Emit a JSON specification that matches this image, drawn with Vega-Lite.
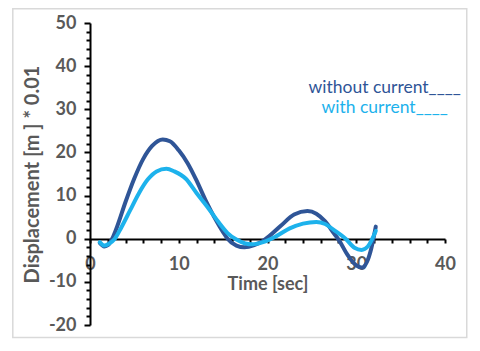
{
  "$schema": "https://vega.github.io/schema/vega-lite/v6.json",
  "width": 355,
  "height": 302,
  "autosize": {"type": "none"},
  "padding": {"left": 90, "top": 23, "right": 35, "bottom": 26},
  "background": "white",
  "config": {
    "view": {"stroke": null},
    "font": "Lato",
    "axis": {"domainColor": "black", "domainWidth": 2, "tickColor": "black", "tickWidth": 2, "grid": false, "zindex": 1,
             "labelFont": "Lato", "labelFontWeight": "bold", "labelFontSize": 18, "labelColor": "#595959",
             "titleFont": "Lato", "titleFontWeight": "bold", "titleFontSize": 18, "titleColor": "#595959"}
  },
  "datasets": {
    "curves": [
      {"series": "without current", "t": 1.1, "d": -1.0},
      {"series": "without current", "t": 1.6, "d": -1.8},
      {"series": "without current", "t": 2.0, "d": -1.5},
      {"series": "without current", "t": 2.5, "d": 0},
      {"series": "without current", "t": 3.0, "d": 2.5},
      {"series": "without current", "t": 4.0, "d": 8.5},
      {"series": "without current", "t": 5.0, "d": 14.0},
      {"series": "without current", "t": 6.0, "d": 18.5},
      {"series": "without current", "t": 7.0, "d": 21.5},
      {"series": "without current", "t": 8.2, "d": 23.0},
      {"series": "without current", "t": 9.0, "d": 22.6},
      {"series": "without current", "t": 10.0, "d": 20.5},
      {"series": "without current", "t": 11.0, "d": 17.5},
      {"series": "without current", "t": 12.0, "d": 13.5},
      {"series": "without current", "t": 13.0, "d": 9.0},
      {"series": "without current", "t": 14.0, "d": 5.0},
      {"series": "without current", "t": 15.0, "d": 1.5},
      {"series": "without current", "t": 15.5, "d": 0},
      {"series": "without current", "t": 16.5, "d": -1.6},
      {"series": "without current", "t": 17.4, "d": -2.0},
      {"series": "without current", "t": 18.5, "d": -1.5},
      {"series": "without current", "t": 19.5, "d": -0.5},
      {"series": "without current", "t": 20.2, "d": 0.6},
      {"series": "without current", "t": 21.5, "d": 3.0},
      {"series": "without current", "t": 23.0, "d": 5.6},
      {"series": "without current", "t": 24.5, "d": 6.4},
      {"series": "without current", "t": 25.5, "d": 5.8},
      {"series": "without current", "t": 26.5, "d": 4.0},
      {"series": "without current", "t": 27.5, "d": 1.2},
      {"series": "without current", "t": 28.1, "d": -0.5},
      {"series": "without current", "t": 29.0, "d": -3.7},
      {"series": "without current", "t": 30.0, "d": -6.2},
      {"series": "without current", "t": 30.6, "d": -6.7},
      {"series": "without current", "t": 31.2, "d": -5.4},
      {"series": "without current", "t": 31.7, "d": -2.2},
      {"series": "without current", "t": 32.2, "d": 2.8},
      {"series": "with current", "t": 1.1, "d": -0.8},
      {"series": "with current", "t": 1.6, "d": -1.6},
      {"series": "with current", "t": 2.1, "d": -1.2},
      {"series": "with current", "t": 2.8, "d": 0},
      {"series": "with current", "t": 3.5, "d": 2.5},
      {"series": "with current", "t": 4.5, "d": 6.5},
      {"series": "with current", "t": 5.5, "d": 10.5},
      {"series": "with current", "t": 6.5, "d": 13.7},
      {"series": "with current", "t": 7.5, "d": 15.6},
      {"series": "with current", "t": 8.6, "d": 16.2},
      {"series": "with current", "t": 9.5, "d": 15.6},
      {"series": "with current", "t": 10.8, "d": 13.9},
      {"series": "with current", "t": 12.0, "d": 10.6},
      {"series": "with current", "t": 13.4, "d": 6.9},
      {"series": "with current", "t": 14.5, "d": 3.8},
      {"series": "with current", "t": 15.5, "d": 1.3},
      {"series": "with current", "t": 16.5, "d": -0.2},
      {"series": "with current", "t": 17.5, "d": -1.1},
      {"series": "with current", "t": 18.3, "d": -1.3},
      {"series": "with current", "t": 19.5, "d": -0.8},
      {"series": "with current", "t": 21.0, "d": 0.6},
      {"series": "with current", "t": 22.5, "d": 2.4},
      {"series": "with current", "t": 24.0, "d": 3.5},
      {"series": "with current", "t": 25.5, "d": 3.9},
      {"series": "with current", "t": 26.5, "d": 3.4},
      {"series": "with current", "t": 27.5, "d": 2.0},
      {"series": "with current", "t": 28.8, "d": 0},
      {"series": "with current", "t": 29.8, "d": -2.1},
      {"series": "with current", "t": 30.6, "d": -2.6},
      {"series": "with current", "t": 31.3, "d": -1.8},
      {"series": "with current", "t": 32.2, "d": 1.8}
    ],
    "labels": [
      {"series": "without current", "label": "without current____", "t": 33.2, "d": 35},
      {"series": "with current", "label": "with current____", "t": 33.2, "d": 30.2}
    ]
  },
  "layer": [
    {
      "data": {"name": "curves"},
      "mark": {"type": "line", "interpolate": "monotone", "strokeWidth": 4, "strokeCap": "round"},
      "encoding": {
        "x": {"field": "t", "type": "quantitative", "scale": {"domain": [0, 40], "nice": false},
              "axis": {"title": "Time [sec]", "offset": -86, "tickCount": 100, "values": [0,2,4,6,8,10,12,14,16,18,20,22,24,26,28,30,32,34,36,38,40],
                       "labelExpr": "datum.value % 10 === 0 ? '' + datum.value : ''", "tickSize": 4, "labelPadding": 12, "titlePadding": 2, "labelFlush": false, "labelOverlap": false}},
        "y": {"field": "d", "type": "quantitative", "scale": {"domain": [-20, 50], "nice": false},
              "axis": {"title": "Displacement [m ] * 0.01", "titleFontSize": 20, "tickCount": 100, "values": [-20,-18,-16,-14,-12,-10,-8,-6,-4,-2,0,2,4,6,8,10,12,14,16,18,20,22,24,26,28,30,32,34,36,38,40,42,44,46,48,50],
                       "labelExpr": "datum.value % 10 === 0 ? '' + datum.value : ''",
                       "tickSize": {"condition": {"test": "datum.value % 10 === 0", "value": 6}, "value": 4},
                       "labelPadding": 8, "titlePadding": 6, "labelFlush": false, "labelOverlap": false}},
        "color": {"field": "series", "type": "nominal", "scale": {"domain": ["without current", "with current"], "range": ["#2F5597", "#1DB2EC"]}, "legend": null},
        "order": {"field": "t", "type": "quantitative"}
      }
    },
    {
      "data": {"values": [{}]},
      "mark": {"type": "rect", "filled": false, "color": "#d9d9d9", "strokeWidth": 1.5, "clip": false},
      "encoding": {
        "x": {"datum": -8.7, "type": "quantitative"},
        "x2": {"datum": 42.45},
        "y": {"datum": 53.3, "type": "quantitative"},
        "y2": {"datum": -22.9}
      }
    },
    {
      "data": {"name": "labels"},
      "mark": {"type": "text", "font": "Lato", "fontSize": 17.5, "align": "center", "baseline": "middle", "clip": false},
      "encoding": {
        "x": {"field": "t", "type": "quantitative"},
        "y": {"field": "d", "type": "quantitative"},
        "text": {"field": "label"},
        "color": {"field": "series", "type": "nominal", "legend": null}
      }
    }
  ]
}
